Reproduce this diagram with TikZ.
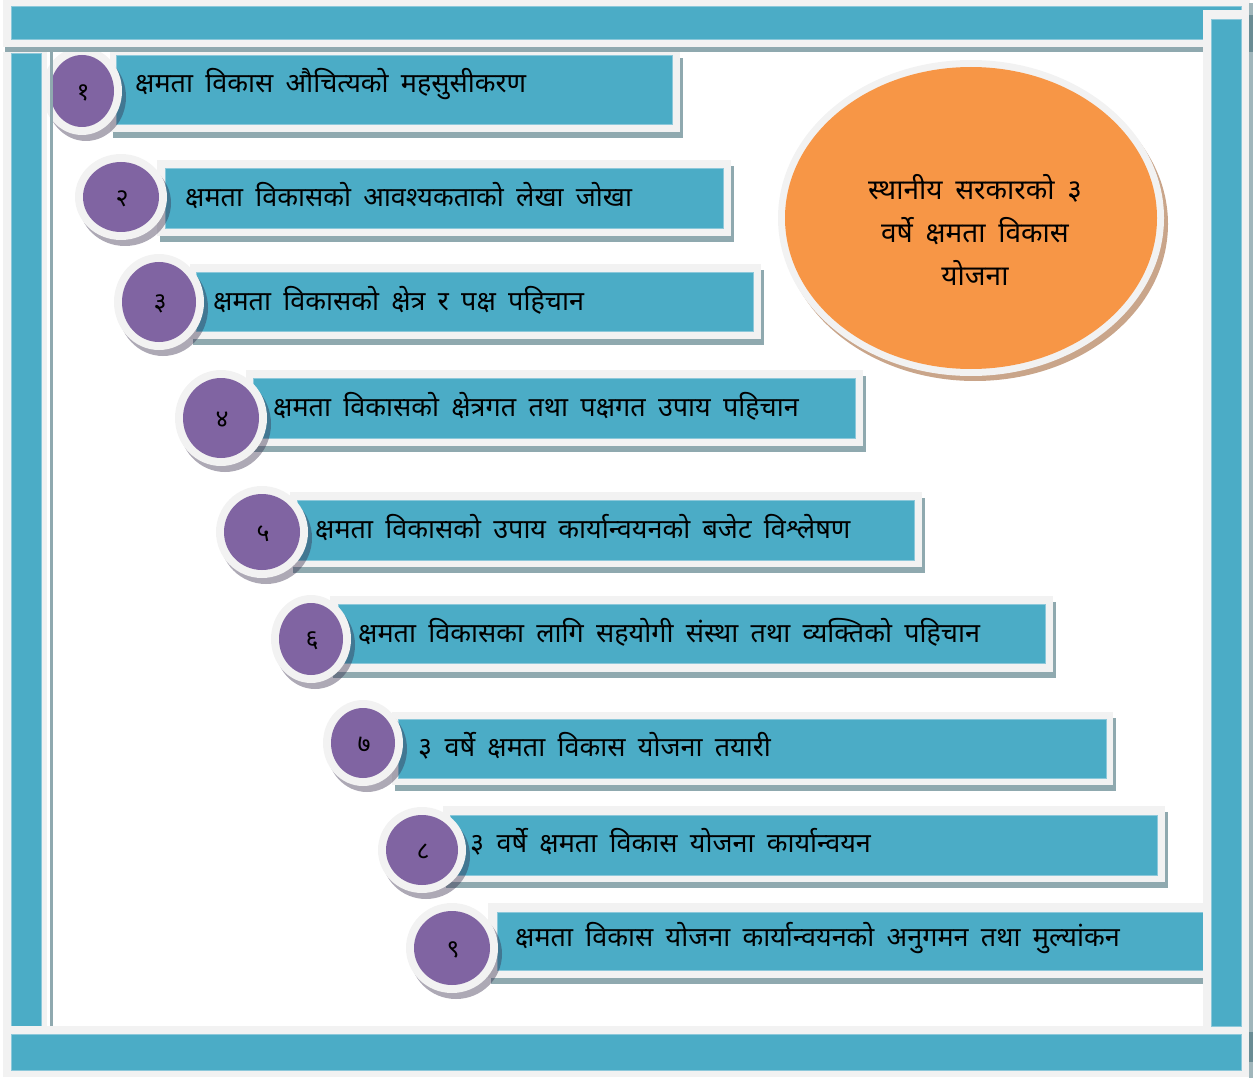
\documentclass[tikz,border=0pt]{standalone}
\usepackage{fontspec}
\newfontfamily\dev[Script=Devanagari,WordSpace=1.75]{Noto Sans}
\definecolor{teal5}{HTML}{4BACC6}
\definecolor{tealedge}{HTML}{8CC8DA}
\definecolor{lgray}{HTML}{F2F2F2}
\definecolor{sgray}{HTML}{8FA9AF}
\definecolor{sdark}{HTML}{6A8C94}
\definecolor{purp}{HTML}{8064A2}
\definecolor{orng}{HTML}{F79646}
\definecolor{obrown}{HTML}{C9A58A}
\tikzset{
  framefill/.style={fill=lgray},
  tealfill/.style={fill=teal5, draw=tealedge, line width=0.7pt},
  boxshadow/.style={fill=sgray},
  circshadow/.style={fill={rgb,255:red,50;green,40;blue,70}, fill opacity=0.4},
  steptext/.style={font=\dev\fontsize{27}{30}\selectfont, anchor=west, text=black, inner sep=0pt},
  numtext/.style={font=\dev\fontsize{25}{27}\selectfont, text=black, inner sep=0pt},
  ovaltext/.style={font=\dev\fontsize{28}{43}\selectfont, align=center, text=black, inner sep=0pt},
}
\begin{document}
\begin{tikzpicture}[x=1pt,y=-1pt]
\useasboundingbox (0,0) rectangle (1259,1078);
% step boxes
\foreach \fa/\fb/\fc/\fd/\ta/\tb/\tc/\td in {
  110/52/680/132/116/55/672/124,
  157/160/731/236/165/168/723/228,
  190/264/761/339/196/272/753/331,
  246/370/863/446/253/378/855/438,
  290/492/922/567/297/500/914/560,
  330/596/1053/672/338/604/1045/663,
  392/712/1113/785/398/719/1106/778,
  443/806/1165/882/450/815/1157/875,
  488/903/1211/978/497/912/1211/970}{
  \fill[boxshadow] (\fa+3,\fb+6) rectangle (\fc+3,\fd+6);
  \fill[framefill] (\fa,\fb) rectangle (\fc,\fd);
  \filldraw[tealfill] (\ta,\tb) rectangle (\tc,\td);
}
% step texts
\node[steptext] (t1) at (135,84) {क्षमता विकास औचित्यको महसुसीकरण};
\node[steptext] (t2) at (185,196) {क्षमता विकासको आवश्यकताको लेखा जोखा};
\node[steptext] (t3) at (213,300) {क्षमता विकासको क्षेत्र र पक्ष पहिचान};
\node[steptext] (t4) at (273,406) {क्षमता विकासको क्षेत्रगत तथा पक्षगत उपाय पहिचान};
\node[steptext] (t5) at (315,528) {क्षमता विकासको उपाय कार्यान्वयनको बजेट विश्लेषण};
\node[steptext] (t6) at (358,632) {क्षमता विकासका लागि सहयोगी संस्था तथा व्यक्तिको पहिचान};
\node[steptext] (t7) at (418,746) {३ वर्षे क्षमता विकास योजना तयारी};
\node[steptext] (t8) at (470,842) {३ वर्षे क्षमता विकास योजना कार्यान्वयन};
\node[steptext] (t9) at (515,938) {क्षमता विकास योजना कार्यान्वयनको अनुगमन तथा मुल्यांकन};
% number circles
\foreach \cx/\cy/\rx/\ry/\n/\nm in {
  82/91/32/36/१/c1,
  121/197/38/35/२/c2,
  159/302/37/40/३/c3,
  221/418/38/40/४/c4,
  262/532/38/38/५/c5,
  311/639/32/36/६/c6,
  363/743/32/35/७/c7,
  422/850/36/35/८/c8,
  452/948/38/37/९/c9}{
  \fill[circshadow] (\cx+4,\cy+6) ellipse [x radius=\rx+8, y radius=\ry+8];
  \fill[lgray] (\cx,\cy) ellipse [x radius=\rx+8, y radius=\ry+8];
  \fill[purp] (\cx,\cy) ellipse [x radius=\rx, y radius=\ry];
  \node[numtext] (\nm) at (\cx+1,\cy+2) {\n};
}
% goal oval
\fill[obrown] (975,224) ellipse [x radius=193, y radius=157];
\fill[lgray] (971,218) ellipse [x radius=193, y radius=158];
\fill[orng] (971,218) ellipse [x radius=186, y radius=151];
\node[ovaltext] (goal) at (975,230) {स्थानीय सरकारको ३\\वर्षे क्षमता विकास\\योजना};
% outer frame
\fill[framefill] (3,0) rectangle (1250,47);
\filldraw[tealfill] (11,6) rectangle (1241,39);
\fill[boxshadow] (5,47) rectangle (1203,52);
\fill[framefill] (3,52) rectangle (47,1026);
\filldraw[tealfill] (11,53) rectangle (41,1026);
\fill[boxshadow] (50,50) rectangle (53,1026);
\fill[framefill] (3,1026) rectangle (1250,1077);
\filldraw[tealfill] (11,1034) rectangle (1241,1070);
\fill[framefill] (1203,10) rectangle (1250,1030);
\filldraw[tealfill] (1211,19) rectangle (1241,1026);
\fill[sgray!85] (1249,3) rectangle (1253,1078);
\fill[sdark] (1249,15) rectangle (1253,52);
\fill[sdark] (1249,1032) rectangle (1253,1062);
\end{tikzpicture}
\end{document}
